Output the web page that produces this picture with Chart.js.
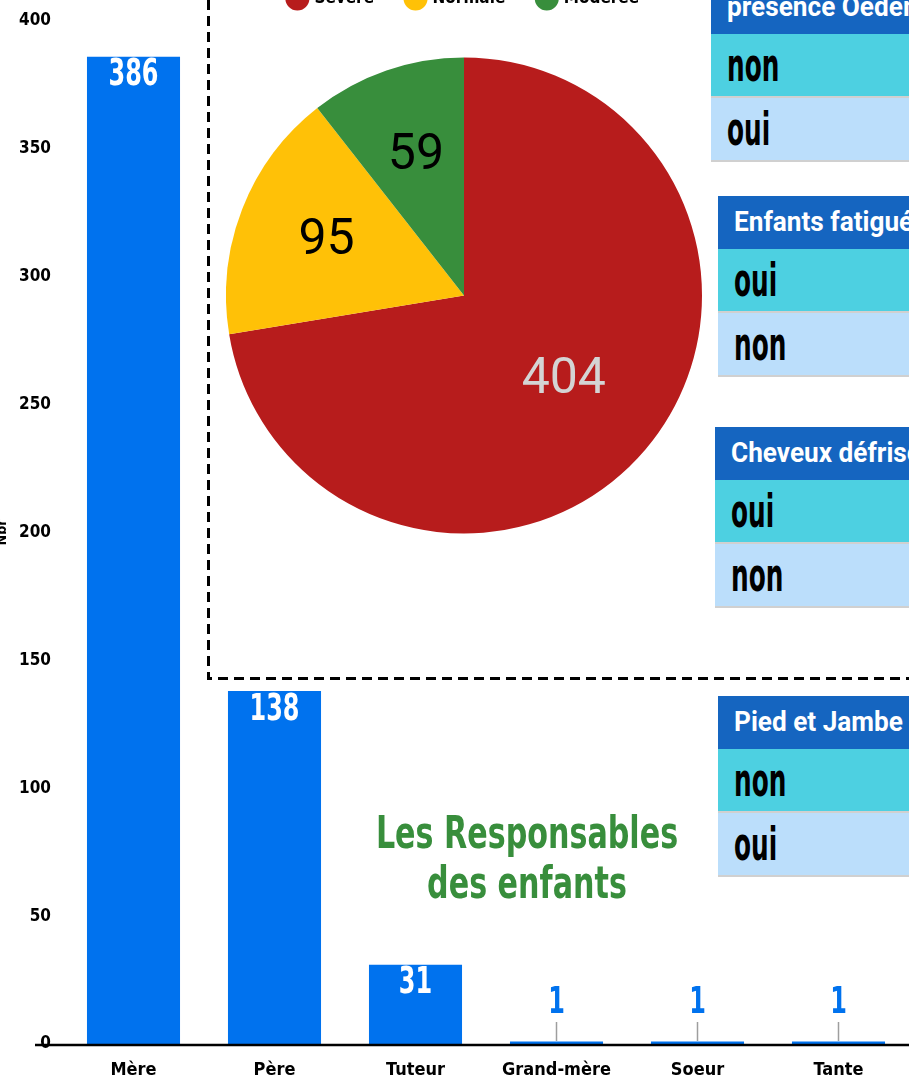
<!DOCTYPE html>
<html>
<head>
<meta charset="utf-8">
<script src="https://cdn.jsdelivr.net/npm/chart.js@4.4.0/dist/chart.umd.min.js"></script>
<style>
  html, body { margin: 0; padding: 0; background: #fff; }
  body { width: 909px; height: 1076px; position: relative; overflow: hidden; }
  canvas { position: absolute; }
  #barChart { left: 0; top: 0; }
  #pieChart { left: 226px; top: -43px; }
  .tbl { position: absolute; width: 260px; }
  .tbl .hd {
    background: #1565c0; height: 53px; color: #fff; overflow: hidden; padding-left: 16px;
    font: 700 27px Roboto, sans-serif; line-height: 53px; white-space: nowrap;
  }
  .tbl .row {
    height: 62px; border-bottom: 2px solid #d0d0d0; overflow: hidden; padding-left: 16px;
    font: bold 46px 'DejaVu Sans Condensed', 'DejaVu Sans', sans-serif; line-height: 62px;
  }
  .tbl .row:nth-child(2) { background: #4dd0e1; }
  .tbl .row:nth-child(3) { background: #bbdefb; }
  .tbl span { display: inline-block; transform-origin: 0 50%; }
  .tbl .hd span { transform: scaleX(0.97); }
  .tbl .row span { transform: scaleX(0.6); }
  #title {
    position: absolute; left: 227px; top: 808px; width: 600px; text-align: center; white-space: nowrap;
    color: #388e3c; font: bold 45px 'DejaVu Sans Condensed', 'DejaVu Sans', sans-serif;
    line-height: 50px; transform: scaleX(0.745); transform-origin: 50% 0;
  }
</style>
</head>
<body>
<canvas id="barChart" width="909" height="1076"></canvas>
<canvas id="pieChart" width="476" height="595"></canvas>
<div id="tables"></div>
<div id="title">Les Responsables<br>des enfants</div>
<script>
const categories = ['Mère', 'Père', 'Tuteur', 'Grand-mère', 'Soeur', 'Tante'];
const counts = [386, 138, 31, 1, 1, 1];
const yMin = 0, yMax = 400, yStep = 50;

const severityLabels = ['Sévère', 'Normale', 'Modérée'];
const severityCounts = [404, 95, 59];
const severityColors = ['#b71c1c', '#ffc107', '#388e3c'];

const tableHeaders = ['presence Oedeme', 'Enfants fatigués', 'Cheveux défrisés', 'Pied et Jambe'];
const tableRows = [['non', 'oui'], ['oui', 'non'], ['oui', 'non'], ['non', 'oui']];
const tableSpots = [[711, -19], [718, 196], [715, 427], [718, 696]];

const condensed = "'DejaVu Sans Condensed', 'DejaVu Sans', sans-serif";
const blue = '#0072ee';

// tables on the right
const holder = document.getElementById('tables');
tableHeaders.forEach((h, i) => {
  const t = document.createElement('div');
  t.className = 'tbl';
  t.style.left = tableSpots[i][0] + 'px';
  t.style.top = tableSpots[i][1] + 'px';
  let html = '<div class="hd"><span>' + h + '</span></div>';
  tableRows[i].forEach(r => { html += '<div class="row"><span>' + r + '</span></div>'; });
  t.innerHTML = html;
  holder.appendChild(t);
});

// labels on the bars, base line and dashed frame
const barDecor = {
  id: 'barDecor',
  afterDatasetsDraw(chart) {
    const ctx = chart.ctx;
    const meta = chart.getDatasetMeta(0);
    const y0 = chart.scales.y.getPixelForValue(0);
    ctx.save();
    ctx.textAlign = 'center';
    ctx.textBaseline = 'middle';
    ctx.font = 'bold 37px ' + condensed;
    meta.data.forEach((bar, i) => {
      const v = counts[i];
      const h = y0 - bar.y;
      let ly;
      if (h > 40) {
        ctx.fillStyle = '#fff';
        ly = bar.y + 19;
      } else {
        ctx.fillStyle = blue;
        ly = y0 - 41;
        ctx.strokeStyle = '#9e9e9e';
        ctx.lineWidth = 1.5;
        ctx.beginPath();
        ctx.moveTo(bar.x, y0 - 3);
        ctx.lineTo(bar.x, y0 - 22);
        ctx.stroke();
      }
      ctx.save();
      ctx.translate(bar.x, ly);
      ctx.scale(0.72, 1);
      ctx.fillText(String(v), 0, 0);
      ctx.restore();
    });
    ctx.strokeStyle = '#000';
    ctx.lineWidth = 2.5;
    ctx.beginPath();
    ctx.moveTo(35, y0 + 1);
    ctx.lineTo(909, y0 + 1);
    ctx.stroke();
    ctx.lineWidth = 3;
    ctx.setLineDash([10, 6]);
    ctx.beginPath();
    ctx.moveTo(208.5, 0);
    ctx.lineTo(208.5, 678.5);
    ctx.lineTo(909, 678.5);
    ctx.stroke();
    ctx.restore();
  }
};

new Chart(document.getElementById('barChart'), {
  type: 'bar',
  data: {
    labels: categories,
    datasets: [{
      label: 'Nbr',
      data: counts,
      backgroundColor: blue,
      barPercentage: 0.66,
      categoryPercentage: 1
    }]
  },
  options: {
    responsive: false,
    animation: false,
    devicePixelRatio: 1,
    layout: { padding: { top: 21, right: 0, left: 0, bottom: 0 } },
    plugins: { legend: { display: false }, tooltip: { enabled: false } },
    scales: {
      x: {
        grid: { display: false },
        border: { display: false },
        ticks: { color: '#000', font: { family: condensed, size: 18, weight: 'bold' }, padding: 8 },
        afterFit: s => { s.height = 32; }
      },
      y: {
        min: yMin, max: yMax,
        grid: { display: false },
        border: { display: false },
        ticks: { stepSize: yStep, color: '#000', font: { family: condensed, size: 17, weight: 'bold' }, padding: 4 },
        title: { display: true, text: 'Nbr', color: '#000', font: { family: condensed, size: 14, weight: 'bold' }, padding: { top: -6, bottom: 0 } },
        afterFit: s => { s.width = 63; }
      }
    }
  },
  plugins: [barDecor]
});

// values inside the pie slices
const pieValues = {
  id: 'pieValues',
  afterDatasetsDraw(chart) {
    const ctx = chart.ctx;
    ctx.save();
    ctx.textAlign = 'center';
    ctx.textBaseline = 'middle';
    ctx.font = '50px Roboto, sans-serif';
    chart.getDatasetMeta(0).data.forEach((arc, i) => {
      const mid = (arc.startAngle + arc.endAngle) / 2;
      const f = i === 0 ? 0.55 : 0.62;
      const x = arc.x + Math.cos(mid) * arc.outerRadius * f;
      const y = arc.y + Math.sin(mid) * arc.outerRadius * f;
      ctx.fillStyle = i === 0 ? '#d4d4d4' : '#000';
      ctx.fillText(String(severityCounts[i]), x, y);
    });
    ctx.restore();
  }
};

// extra room between legend and pie
const legendGap = {
  id: 'legendGap',
  beforeInit(chart) {
    const fit = chart.legend.fit;
    chart.legend.fit = function () {
      fit.call(this);
      this.height += 22;
    };
  }
};

new Chart(document.getElementById('pieChart'), {
  type: 'pie',
  data: {
    labels: severityLabels,
    datasets: [{
      data: severityCounts,
      backgroundColor: severityColors,
      borderWidth: 0
    }]
  },
  options: {
    responsive: false,
    animation: false,
    devicePixelRatio: 1,
    layout: { padding: 0 },
    plugins: {
      tooltip: { enabled: false },
      legend: {
        position: 'top',
        labels: {
          usePointStyle: true,
          pointStyle: 'circle',
          padding: 33,
          color: '#000',
          font: { family: condensed, size: 17, weight: 'bold' }
        }
      }
    }
  },
  plugins: [legendGap, pieValues]
});
</script>
</body>
</html>
